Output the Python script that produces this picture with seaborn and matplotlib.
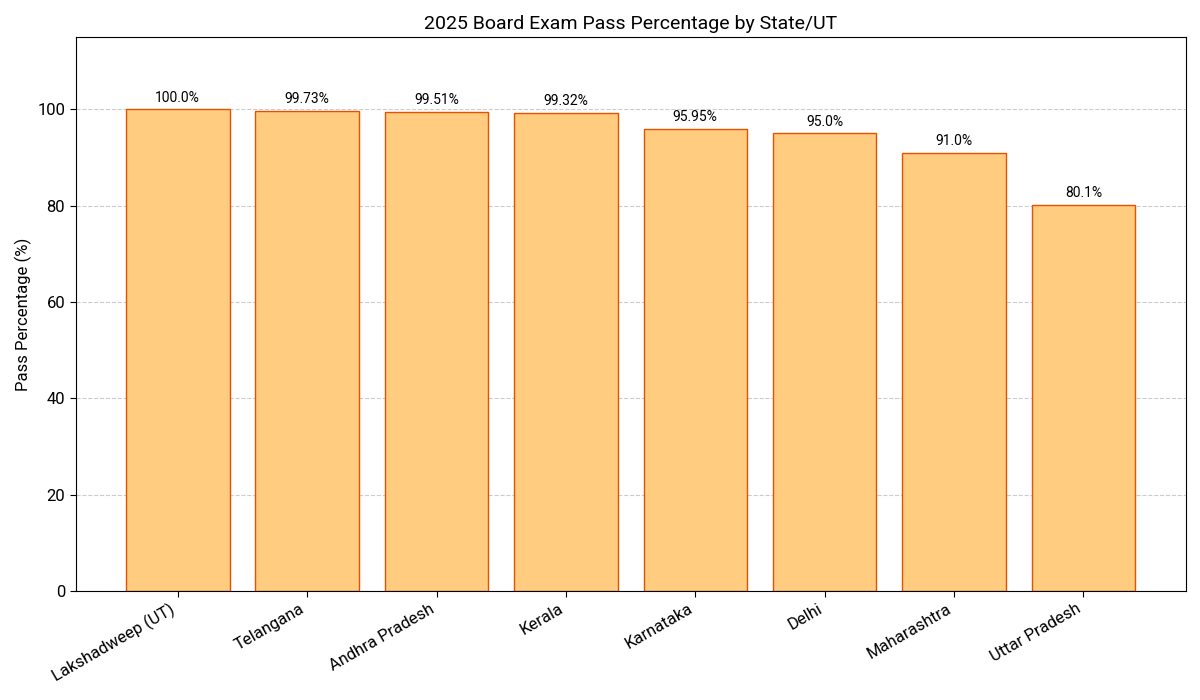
import seaborn as sns
import matplotlib.pyplot as plt
import pandas as pd

states = ["Lakshadweep (UT)", "Telangana", "Andhra Pradesh", "Kerala",
          "Karnataka", "Delhi", "Maharashtra", "Uttar Pradesh"]
pass_pct = [100.0, 99.73, 99.51, 99.32, 95.95, 95.0, 91.0, 80.1]
pct_labels = ["100.0%", "99.73%", "99.51%", "99.32%", "95.95%", "95.0%", "91.0%", "80.1%"]

df = pd.DataFrame({"state": states, "pct": pass_pct})

sns.set_style("white")
plt.rcParams['font.family'] = ['Roboto', 'DejaVu Sans']
plt.rcParams['text.color'] = 'black'
plt.rcParams['axes.labelcolor'] = 'black'
plt.rcParams['xtick.color'] = 'black'
plt.rcParams['ytick.color'] = 'black'

fig, ax = plt.subplots(figsize=(12, 7), dpi=100)
sns.barplot(data=df, x="state", y="pct", color="#FFCC80", edgecolor="#E65100",
            linewidth=1, saturation=1, width=0.8, ax=ax)
ax.set_axisbelow(True)
ax.yaxis.grid(True, linestyle="--", color="#cccccc", linewidth=0.8)

for i, (v, lab) in enumerate(zip(pass_pct, pct_labels)):
    ax.text(i, v + 1.0, lab, ha="center", va="bottom", fontsize=10, color="black")

n = len(states)
pad = (n - 1 + 0.8) * 0.05
ax.set_xlim(-0.4 - pad, n - 1 + 0.4 + pad)
ax.set_ylim(0, max(pass_pct) * 1.15)
ax.set_title("2025 Board Exam Pass Percentage by State/UT", fontsize=14, color="black")
ax.set_xlabel("")
ax.set_ylabel("Pass Percentage (%)", fontsize=12)
ax.tick_params(axis="both", labelsize=12, length=4, left=True, bottom=True)
plt.setp(ax.get_xticklabels(), rotation=30, ha="right")
for s in ax.spines.values():
    s.set_color("black")

fig.subplots_adjust(left=0.063, right=0.988, top=0.947, bottom=0.156)
plt.savefig("out.png")
